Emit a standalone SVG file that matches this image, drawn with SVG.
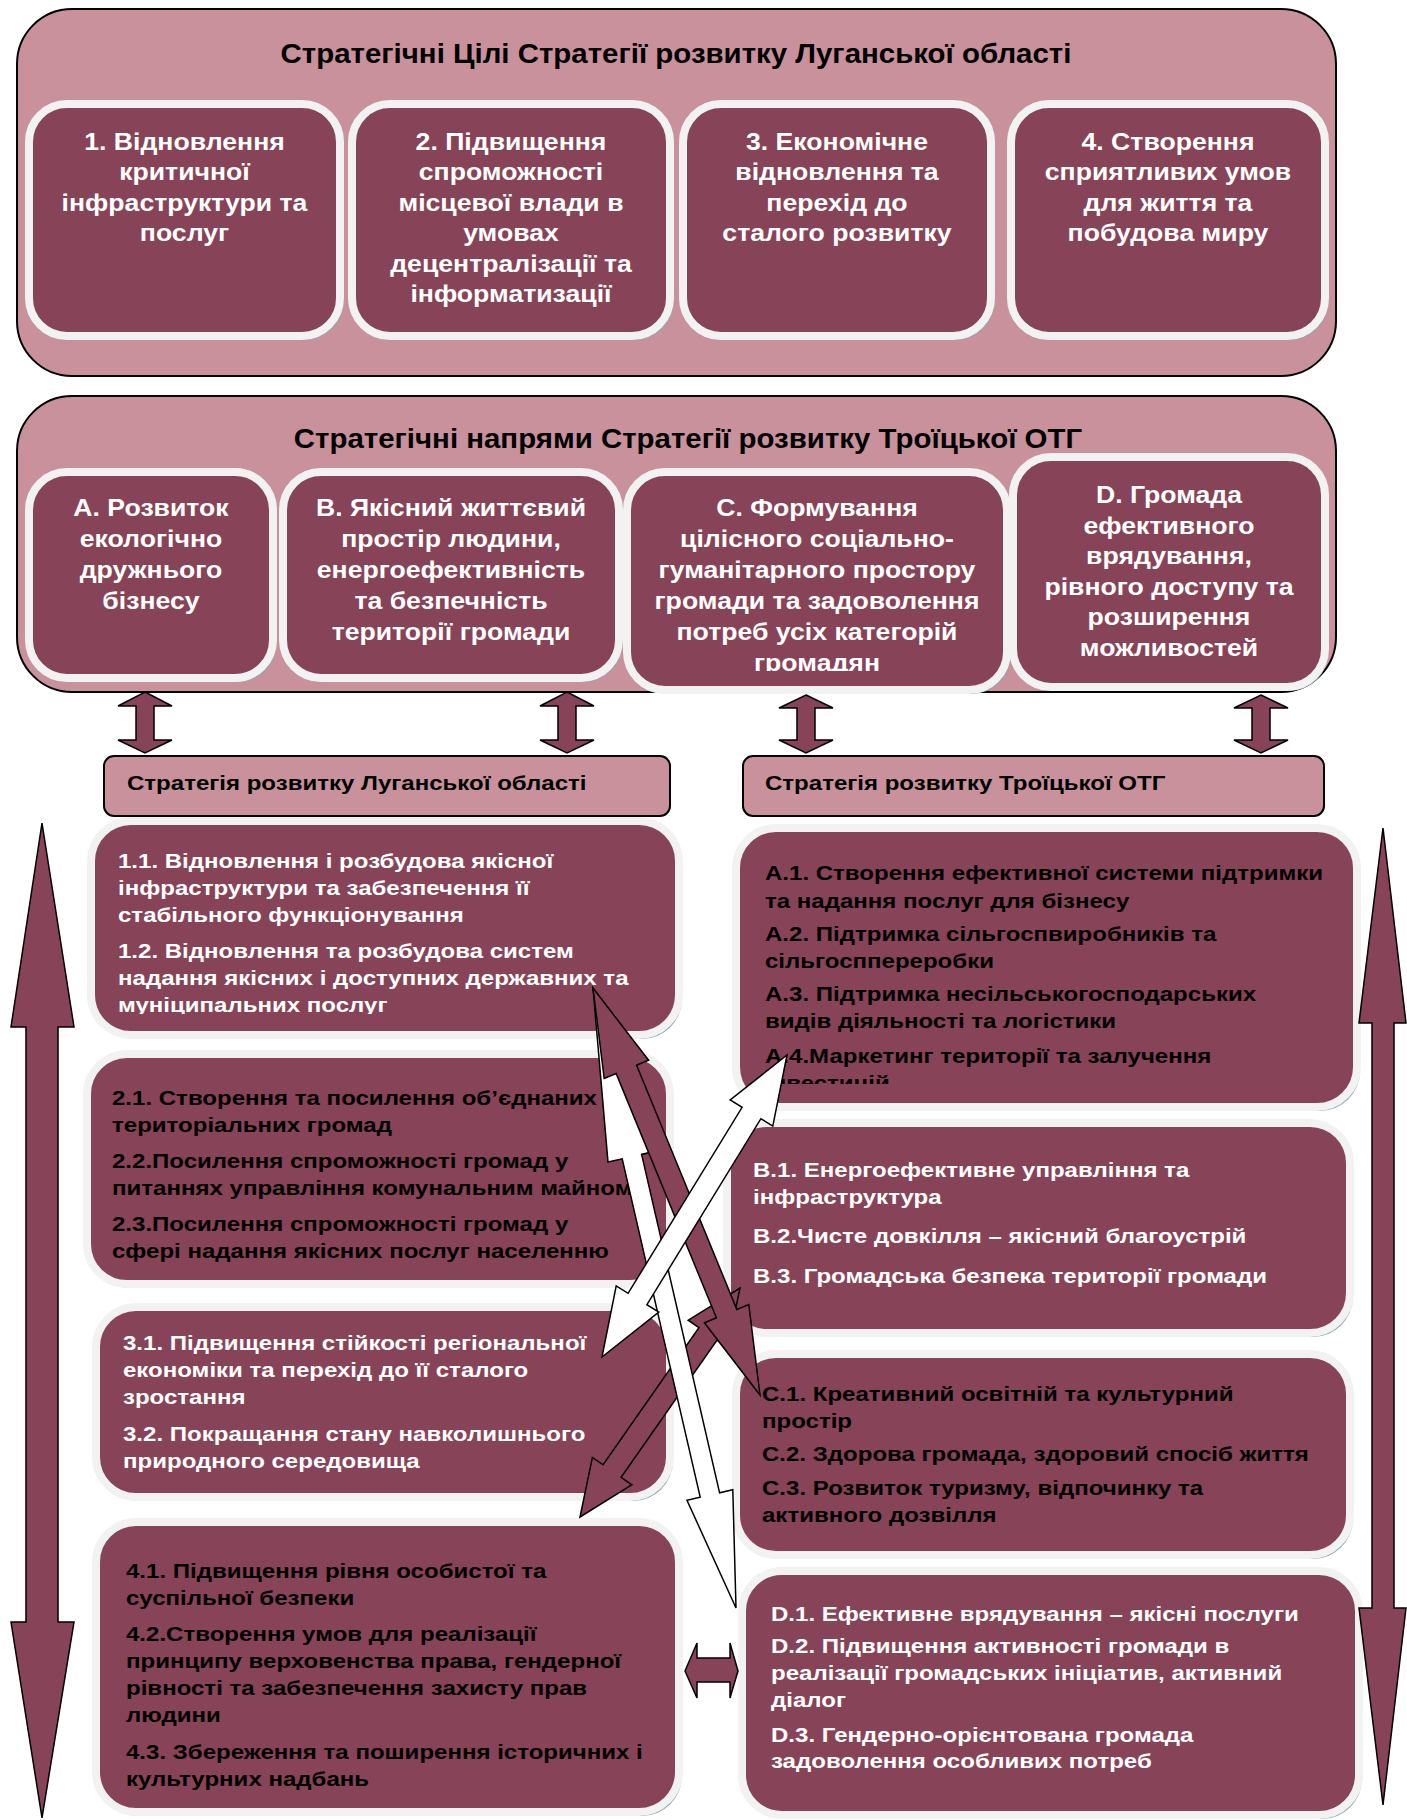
<svg xmlns="http://www.w3.org/2000/svg" width="1407" height="1820" viewBox="0 0 1407 1820">
<defs>
<style>
.outer{fill:#C8919C;stroke:#000;stroke-width:2}
.lbl{fill:#C8919C;stroke:#000;stroke-width:2}
.sh{fill:#8FA8B4}
.nd{fill:#874357;stroke:#F2F2F2;stroke-width:8}
.t{font-family:"Liberation Sans",Arial,sans-serif;font-weight:bold}
.title{font-size:27px;fill:#000;text-anchor:middle}
.big{font-size:24px;fill:#fff;text-anchor:middle}
.sm{font-size:21px}
.w{fill:#fff}
.k{fill:#000}
.lab{font-size:21px;fill:#000}
.da{fill:#874357;stroke:#000;stroke-width:1.5;stroke-linejoin:miter}
.wa{fill:#fff;stroke:#000;stroke-width:1.5;stroke-linejoin:miter}
</style>
<clipPath id="clipC"><rect x="600" y="460" width="420" height="211"/></clipPath>
<clipPath id="clip1"><rect x="90" y="820" width="600" height="194"/></clipPath>
<clipPath id="clipA"><rect x="735" y="828" width="625" height="256"/></clipPath>
</defs>
<rect width="1407" height="1820" fill="#fff"/>

<g id="goals-panel">
<rect class="outer" x="17" y="9" width="1319" height="367" rx="55"/>
<text class="t title" x="676" y="63" transform="matrix(1.09,0,0,1,-60.84,0)">Стратегічні Цілі Стратегії розвитку Луганської області</text>
</g>
<g id="goal-1">
<rect class="sh" x="32" y="108" width="311" height="232" rx="38"/>
<rect class="nd" x="29" y="104" width="311" height="232" rx="38"/>
<text class="t big" y="150" transform="matrix(1.11,0,0,1,-20.3,0)"><tspan x="184.5">1. Відновлення</tspan><tspan x="184.5" dy="30.5">критичної</tspan><tspan x="184.5" dy="30.5">інфраструктури та</tspan><tspan x="184.5" dy="30.5">послуг</tspan></text>
</g>
<g id="goal-2">
<rect class="sh" x="355" y="108" width="318" height="232" rx="38"/>
<rect class="nd" x="352" y="104" width="318" height="232" rx="38"/>
<text class="t big" y="150" transform="matrix(1.11,0,0,1,-56.21,0)"><tspan x="511">2. Підвищення</tspan><tspan x="511" dy="30.5">спроможності</tspan><tspan x="511" dy="30.5">місцевої влади в</tspan><tspan x="511" dy="30.5">умовах</tspan><tspan x="511" dy="30.5">децентралізації та</tspan><tspan x="511" dy="30.5">інформатизації</tspan></text>
</g>
<g id="goal-3">
<rect class="sh" x="686" y="108" width="308" height="232" rx="38"/>
<rect class="nd" x="683" y="104" width="308" height="232" rx="38"/>
<text class="t big" y="150" transform="matrix(1.11,0,0,1,-92.07,0)"><tspan x="837">3. Економічне</tspan><tspan x="837" dy="30.5">відновлення та</tspan><tspan x="837" dy="30.5">перехід до</tspan><tspan x="837" dy="30.5">сталого розвитку</tspan></text>
</g>
<g id="goal-4">
<rect class="sh" x="1014" y="108" width="314" height="232" rx="38"/>
<rect class="nd" x="1011" y="104" width="314" height="232" rx="38"/>
<text class="t big" y="150" transform="matrix(1.11,0,0,1,-128.48,0)"><tspan x="1168">4. Створення</tspan><tspan x="1168" dy="30.5">сприятливих умов</tspan><tspan x="1168" dy="30.5">для життя та</tspan><tspan x="1168" dy="30.5">побудова миру</tspan></text>
</g>

<g id="directions-panel">
<rect class="outer" x="17" y="396" width="1319" height="296" rx="55"/>
<text class="t title" x="688" y="448" transform="matrix(1.09,0,0,1,-61.92,0)">Стратегічні напрями Стратегії розвитку Троїцької ОТГ</text>
</g>
<g id="dir-A">
<rect class="sh" x="32" y="476" width="244" height="206" rx="38"/>
<rect class="nd" x="29" y="472" width="244" height="206" rx="38"/>
<text class="t big" y="516" transform="matrix(1.11,0,0,1,-16.61,0)"><tspan x="151">А. Розвиток</tspan><tspan x="151" dy="31">екологічно</tspan><tspan x="151" dy="31">дружнього</tspan><tspan x="151" dy="31">бізнесу</tspan></text>
</g>
<g id="dir-B">
<rect class="sh" x="286" y="476" width="336" height="206" rx="38"/>
<rect class="nd" x="283" y="472" width="336" height="206" rx="38"/>
<text class="t big" y="516" transform="matrix(1.11,0,0,1,-49.61,0)"><tspan x="451">В. Якісний життєвий</tspan><tspan x="451" dy="31">простір людини,</tspan><tspan x="451" dy="31">енергоефективність</tspan><tspan x="451" dy="31">та безпечність</tspan><tspan x="451" dy="31">території громади</tspan></text>
</g>
<g id="dir-C">
<rect class="sh" x="630" y="476" width="380" height="218" rx="38"/>
<rect class="nd" x="627" y="472" width="380" height="218" rx="38"/>
<g clip-path="url(#clipC)">
<text class="t big" y="516" transform="matrix(1.11,0,0,1,-89.87,0)"><tspan x="817">С. Формування</tspan><tspan x="817" dy="31">цілісного соціально-</tspan><tspan x="817" dy="31">гуманітарного простору</tspan><tspan x="817" dy="31">громади та задоволення</tspan><tspan x="817" dy="31">потреб усіх категорій</tspan><tspan x="817" dy="31">громадян</tspan></text>
</g>
</g>
<g id="dir-D">
<rect class="sh" x="1016" y="461" width="312" height="230" rx="38"/>
<rect class="nd" x="1013" y="457" width="312" height="230" rx="38"/>
<text class="t big" y="503" transform="matrix(1.11,0,0,1,-128.59,0)"><tspan x="1169">D. Громада</tspan><tspan x="1169" dy="30.6">ефективного</tspan><tspan x="1169" dy="30.6">врядування,</tspan><tspan x="1169" dy="30.6">рівного доступу та</tspan><tspan x="1169" dy="30.6">розширення</tspan><tspan x="1169" dy="30.6">можливостей</tspan></text>
</g>

<g id="label-luhansk">
<rect class="lbl" x="104" y="756" width="566" height="60" rx="10"/>
<text class="t lab" x="127" y="790" transform="matrix(1.145,0,0,1,-18.42,0)">Стратегія розвитку Луганської області</text>
</g>
<g id="label-troitske">
<rect class="lbl" x="743" y="756" width="581" height="60" rx="10"/>
<text class="t lab" x="765" y="790" transform="matrix(1.145,0,0,1,-110.93,0)">Стратегія розвитку Троїцької ОТГ</text>
</g>

<g id="obj-1">
<rect class="sh" x="94" y="825" width="588" height="214" rx="40"/>
<rect class="nd" x="91" y="821" width="588" height="214" rx="40"/>
<g clip-path="url(#clip1)">
<text class="t sm w" transform="matrix(1.145,0,0,1,-17.11,0)"><tspan x="118" y="868">1.1. Відновлення і розбудова якісної</tspan><tspan x="118" y="895">інфраструктури та забезпечення її</tspan><tspan x="118" y="922">стабільного функціонування</tspan><tspan x="118" y="958">1.2. Відновлення та розбудова систем</tspan><tspan x="118" y="985">надання якісних і доступних державних та</tspan><tspan x="118" y="1012">муніципальних послуг</tspan></text>
</g>
</g>
<g id="obj-2">
<rect class="sh" x="90" y="1058" width="583" height="230" rx="40"/>
<rect class="nd" x="87" y="1054" width="583" height="230" rx="40"/>
<text class="t sm k" transform="matrix(1.145,0,0,1,-16.24,0)"><tspan x="112" y="1105">2.1. Створення та посилення об’єднаних</tspan><tspan x="112" y="1132">територіальних громад</tspan><tspan x="112" y="1168">2.2.Посилення спроможності громад у</tspan><tspan x="112" y="1195">питаннях управління комунальним майном</tspan><tspan x="112" y="1231">2.3.Посилення спроможності громад у</tspan><tspan x="112" y="1258">сфері надання якісних послуг населенню</tspan></text>
</g>
<g id="obj-3">
<rect class="sh" x="99" y="1311" width="574" height="190" rx="40"/>
<rect class="nd" x="96" y="1307" width="574" height="190" rx="40"/>
<text class="t sm w" transform="matrix(1.145,0,0,1,-17.84,0)"><tspan x="123" y="1350">3.1. Підвищення стійкості регіональної</tspan><tspan x="123" y="1377">економіки та перехід до її сталого</tspan><tspan x="123" y="1404">зростання</tspan><tspan x="123" y="1441">3.2. Покращання стану навколишнього</tspan><tspan x="123" y="1468">природного середовища</tspan></text>
</g>
<g id="obj-4">
<rect class="sh" x="99" y="1526" width="583" height="290" rx="40"/>
<rect class="nd" x="96" y="1522" width="583" height="290" rx="40"/>
<text class="t sm k" transform="matrix(1.145,0,0,1,-18.27,0)"><tspan x="126" y="1578">4.1. Підвищення рівня особистої та</tspan><tspan x="126" y="1605">суспільної безпеки</tspan><tspan x="126" y="1641">4.2.Створення умов для реалізації</tspan><tspan x="126" y="1668">принципу верховенства права, гендерної</tspan><tspan x="126" y="1695">рівності та забезпечення захисту прав</tspan><tspan x="126" y="1722">людини</tspan><tspan x="126" y="1759">4.3. Збереження та поширення історичних і</tspan><tspan x="126" y="1786">культурних надбань</tspan></text>
</g>

<g id="obj-A">
<rect class="sh" x="739" y="832" width="621" height="279" rx="40"/>
<rect class="nd" x="736" y="828" width="621" height="279" rx="40"/>
<g clip-path="url(#clipA)">
<text class="t sm k" transform="matrix(1.145,0,0,1,-110.93,0)"><tspan x="765" y="880">А.1. Створення ефективної системи підтримки</tspan><tspan x="765" y="908">та надання послуг для бізнесу</tspan><tspan x="765" y="941">А.2. Підтримка сільгоспвиробників  та</tspan><tspan x="765" y="968">сільгосппереробки</tspan><tspan x="765" y="1001">А.3. Підтримка несільськогосподарських</tspan><tspan x="765" y="1028">видів діяльності та логістики</tspan><tspan x="765" y="1063">А.4.Маркетинг території та залучення</tspan><tspan x="765" y="1090">інвестицій</tspan></text>
</g>
</g>
<g id="obj-B">
<rect class="sh" x="730" y="1127" width="623" height="210" rx="40"/>
<rect class="nd" x="727" y="1123" width="623" height="210" rx="40"/>
<text class="t sm w" transform="matrix(1.145,0,0,1,-109.19,0)"><tspan x="753" y="1177">В.1. Енергоефективне управління та</tspan><tspan x="753" y="1204">інфраструктура</tspan><tspan x="753" y="1243">В.2.Чисте довкілля – якісний благоустрій</tspan><tspan x="753" y="1283">В.3. Громадська безпека території громади</tspan></text>
</g>
<g id="obj-C">
<rect class="sh" x="739" y="1358" width="614" height="201" rx="40"/>
<rect class="nd" x="736" y="1354" width="614" height="201" rx="40"/>
<text class="t sm k" transform="matrix(1.145,0,0,1,-110.49,0)"><tspan x="762" y="1401">С.1. Креативний освітній та культурний</tspan><tspan x="762" y="1428">простір</tspan><tspan x="762" y="1461">С.2. Здорова громада, здоровий спосіб життя</tspan><tspan x="762" y="1495">С.3. Розвиток туризму, відпочинку та</tspan><tspan x="762" y="1522">активного дозвілля</tspan></text>
</g>
<g id="obj-D">
<rect class="sh" x="745" y="1575" width="617" height="244" rx="40"/>
<rect class="nd" x="742" y="1571" width="617" height="244" rx="40"/>
<text class="t sm w" transform="matrix(1.145,0,0,1,-111.8,0)"><tspan x="771" y="1621">D.1. Ефективне врядування – якісні послуги</tspan><tspan x="771" y="1653">D.2. Підвищення активності громади в</tspan><tspan x="771" y="1680">реалізації  громадських ініціатив, активний</tspan><tspan x="771" y="1707">діалог</tspan><tspan x="771" y="1742">D.3. Гендерно-орієнтована громада</tspan><tspan x="771" y="1768">задоволення особливих потреб</tspan></text>
</g>

<g id="connectors">
<polygon class="da" points="145,692 172,706 154,706 154,740 172,740 145,753 118,740 136,740 136,706 118,706"/>
<polygon class="da" points="567,692 594,706 576,706 576,740 594,740 567,753 540,740 558,740 558,706 540,706"/>
<polygon class="da" points="806,695 833,708 815,708 815,740 833,740 806,753 779,740 797,740 797,708 779,708"/>
<polygon class="da" points="1261,695 1288,708 1270,708 1270,740 1288,740 1261,753 1234,740 1252,740 1252,708 1234,708"/>
<polygon class="da" points="42,823 74,1027 58,1027 58,1622 74,1622 42,1818 11,1622 26,1622 26,1027 11,1027"/>
<polygon class="da" points="1383,828 1406,1023 1394,1023 1394,1608 1406,1608 1383,1805 1359,1608 1372,1608 1372,1023 1359,1023"/>
<polygon class="da" points="580,1517 631.8,1484.8 621.1,1477.4 716.9,1340.2 727.6,1347.6 740,1288 688.2,1320.2 698.9,1327.6 603.1,1464.8 592.4,1457.4"/>
<polygon class="wa" points="593,988 608,1162.1 622.2,1158.8 700.2,1497.2 687,1500.3 736,1608 732.8,1489.7 719.6,1492.8 641.6,1154.4 655.8,1151.1"/>
<polygon class="da" points="593,988 604.2,1078.5 616.2,1073.6 716.4,1317.8 704.4,1322.7 760,1395 748.8,1304.5 736.8,1309.4 636.6,1065.2 648.6,1060.3"/>
<polygon class="wa" points="787,1055 730.2,1099.9 742.1,1107.3 628.1,1293.3 616.2,1285.9 602,1357 658.8,1312.1 646.9,1304.7 760.9,1118.7 772.8,1126.1"/>
<polygon class="da" points="685,1671 697,1643 697,1658 730,1658 730,1643 738,1671 730,1698 730,1682 697,1682 697,1698"/>
</g>
</svg>
